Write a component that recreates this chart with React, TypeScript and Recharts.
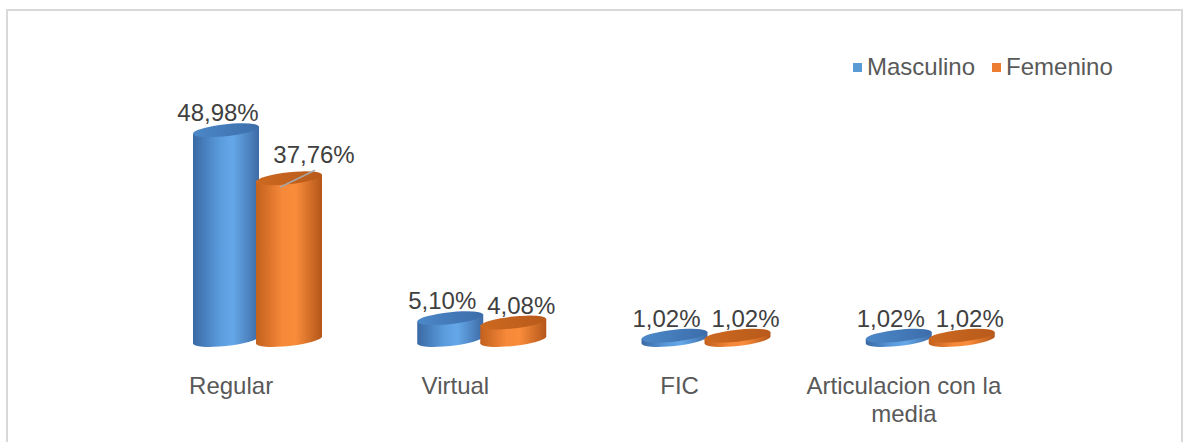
import React from 'react';
import { BarChart, Bar, XAxis, YAxis, LabelList } from 'recharts';

const categories = ['Regular', 'Virtual', 'FIC', 'Articulacion con la media'];
const masculino = [48.98, 5.1, 1.02, 1.02];
const femenino = [37.76, 4.08, 1.02, 1.02];
const seriesNames = ['Masculino', 'Femenino'];

const data = categories.map((c, i) => ({ name: c, m: masculino[i], f: femenino[i] }));

const FONT = '"Liberation Sans", Arial, sans-serif';
const BLUE = {
  body: ['#3a69a4', '#5a9bdc', '#65a8ea', '#3d6ba5'],
  top: ['#4c88c8', '#3c6daa'],
  legend: '#5b9bd5',
};
const ORANGE = {
  body: ['#c2601d', '#f6893a', '#f98c3a', '#b4561a'],
  top: ['#cc6920', '#b95a1b'],
  legend: '#ed7d31',
};

const fmt = (v: number) => v.toFixed(2).replace('.', ',') + '%';

function Cylinder(props: any) {
  const { x, y, width, height, index, kind } = props;
  if (x == null || y == null) return null;
  const rx = width / 2;
  const ry = 6;
  const cx = x + rx;
  const top = y;
  const bottom = y + height;
  const pal = kind === 'm' ? BLUE : ORANGE;
  const id = `${kind}-${index}`;
  const d = `M ${x} ${top} L ${x} ${bottom} A ${rx} ${ry} 0 0 0 ${x + width} ${bottom} L ${x + width} ${top} Z`;
  return (
    <g transform={`translate(${cx} 0) skewY(-6) translate(${-cx} 0)`}>
      <defs>
        <linearGradient id={`body-${id}`} x1="0" x2="1" y1="0" y2="0">
          <stop offset="0" stopColor={pal.body[0]} />
          <stop offset="0.4" stopColor={pal.body[1]} />
          <stop offset="0.6" stopColor={pal.body[2]} />
          <stop offset="1" stopColor={pal.body[3]} />
        </linearGradient>
        <linearGradient id={`top-${id}`} x1="0" x2="1" y1="0" y2="0">
          <stop offset="0" stopColor={pal.top[0]} />
          <stop offset="1" stopColor={pal.top[1]} />
        </linearGradient>
      </defs>
      <path d={d} fill={`url(#body-${id})`} />
      <ellipse cx={cx} cy={top} rx={rx} ry={ry} fill={`url(#top-${id})`} />
    </g>
  );
}

function makeLabel(kind: string) {
  return (props: any) => {
    const { x, y, width, value, index } = props;
    const cx = x + width / 2;
    let dx = kind === 'm' ? -8 : 8;
    let dy = -9;
    let leader = null;
    if (kind === 'f' && index === 0) {
      dx = 25;
      dy = -15;
      leader = (
        <line x1={cx - 9} y1={y + 9} x2={cx + 26} y2={y - 8} stroke="#a6a6a6" strokeWidth={1.5} />
      );
    }
    return (
      <g>
        {leader}
        <text
          x={cx + dx}
          y={y + dy}
          textAnchor="middle"
          fontFamily={FONT}
          fontSize={24}
          fill="#404040"
        >
          {fmt(Number(value))}
        </text>
      </g>
    );
  };
}

function Tick(props: any) {
  const { x, y, payload } = props;
  const label: string = payload.value;
  const lines = label === 'Articulacion con la media' ? ['Articulacion con la', 'media'] : [label];
  return (
    <text x={x - 26} y={y + 46} textAnchor="middle" fontFamily={FONT} fontSize={24} fill="#595959">
      {lines.map((l, i) => (
        <tspan key={i} x={x - 26} dy={i === 0 ? 0 : 28}>
          {l}
        </tspan>
      ))}
    </text>
  );
}

export default function App() {
  return (
    <div
      style={{
        position: 'absolute',
        left: 6,
        top: 9,
        width: 1173,
        height: 440,
        border: '2px solid #d9d9d9',
        background: '#fff',
      }}
    >
      <BarChart
        width={1173}
        height={430}
        data={data}
        margin={{ top: 72, right: 139, bottom: 41, left: 137 }}
        barSize={66}
        barGap={-3}
      >
        <XAxis dataKey="name" axisLine={false} tickLine={false} height={60} tick={<Tick />} interval={0} />
        <YAxis hide domain={[0, 60]} />
        <Bar dataKey="m" name={seriesNames[0]} fill={BLUE.legend} isAnimationActive={false} shape={(p: any) => <Cylinder {...p} kind="m" />}>
          <LabelList dataKey="m" content={makeLabel('m')} />
        </Bar>
        <Bar dataKey="f" name={seriesNames[1]} fill={ORANGE.legend} isAnimationActive={false} shape={(p: any) => <Cylinder {...p} kind="f" />}>
          <LabelList dataKey="f" content={makeLabel('f')} />
        </Bar>
      </BarChart>
      <div
        style={{
          position: 'absolute',
          left: 845,
          top: 44,
          display: 'flex',
          alignItems: 'center',
          fontFamily: FONT,
          fontSize: 24,
          color: '#595959',
          lineHeight: '24px',
          whiteSpace: 'nowrap',
        }}
      >
        <span style={{ width: 9, height: 9, background: BLUE.legend, display: 'inline-block', marginRight: 5 }} />
        <span style={{ marginRight: 17 }}>{seriesNames[0]}</span>
        <span style={{ width: 9, height: 9, background: ORANGE.legend, display: 'inline-block', marginRight: 5 }} />
        <span>{seriesNames[1]}</span>
      </div>
    </div>
  );
}
